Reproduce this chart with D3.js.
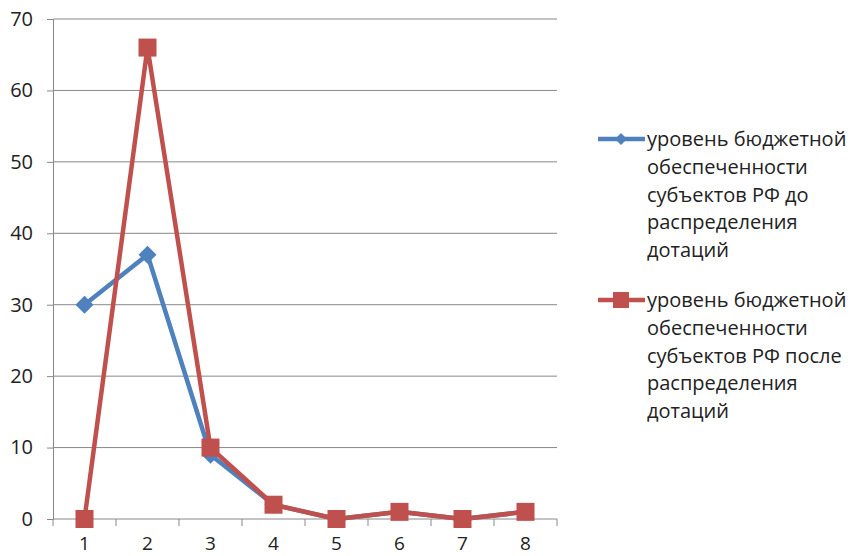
<!DOCTYPE html>
<html><head><meta charset="utf-8">
<script src="https://cdn.jsdelivr.net/npm/d3@7"></script>
<style>body{margin:0;background:#fff}</style>
</head><body>
<svg id="c" width="851" height="556"></svg>
<script>
const categories = ["1","2","3","4","5","6","7","8"];
const seriesBefore = [30, 37, 9, 2, 0, 1, 0, 1];
const seriesAfter = [0, 66, 10, 2, 0, 1, 0, 1];
const yTicks = [0,10,20,30,40,50,60,70];
const legendBefore = ["уровень бюджетной","обеспеченности","субъектов РФ до","распределения","дотаций"];
const legendAfter = ["уровень бюджетной","обеспеченности","субъектов РФ после","распределения","дотаций"];

const svg = d3.select("#c");
const font = "'Open Sans', sans-serif";
const L = 53, R = 557, T = 19, B = 519;
const x = d3.scaleBand().domain(categories).range([L, R]);
const y = d3.scaleLinear().domain([0, 70]).range([B, T]);
const gridColor = "#888";

// rhombus symbol
const rhombus = { draw(ctx, size) { const r = Math.sqrt(size/2); ctx.moveTo(0,-r); ctx.lineTo(r,0); ctx.lineTo(0,r); ctx.lineTo(-r,0); ctx.closePath(); } };

// gridlines
svg.append("g").selectAll("line").data(yTicks.filter(d=>d>0)).join("line")
  .attr("x1", L).attr("x2", R).attr("y1", d=>y(d)).attr("y2", d=>y(d))
  .attr("stroke", gridColor).attr("stroke-width", 1);

// y axis
const ya = svg.append("g").attr("transform", `translate(${L},0)`)
  .call(d3.axisLeft(y).tickValues(yTicks).tickSize(6).tickPadding(14));
ya.select(".domain").attr("stroke", gridColor);
ya.selectAll(".tick line").attr("stroke", gridColor);
ya.selectAll("text").attr("font-family", font).attr("font-size", 20).attr("fill", "#222");

// x axis
const xa = svg.append("g").attr("transform", `translate(0,${B})`)
  .call(d3.axisBottom(x).tickSize(0).tickPadding(18));
xa.select(".domain").attr("stroke", gridColor).attr("d", `M${L},0H${R}`);
xa.selectAll("text").attr("font-family", font).attr("font-size", 19).attr("fill", "#222");
const bounds = categories.map(c => x(c)).concat([R]);
svg.append("g").selectAll("line").data(bounds).join("line")
  .attr("x1", d=>d).attr("x2", d=>d).attr("y1", B).attr("y2", B+7)
  .attr("stroke", gridColor);

const cx = (d,i) => x(categories[i]) + x.bandwidth()/2;
const line = d3.line().x((d,i)=>cx(d,i)).y(d=>y(d));
const blue = "#4F81BD", red = "#C0504D";

svg.append("path").datum(seriesBefore).attr("d", line).attr("fill","none").attr("stroke", blue).attr("stroke-width", 4.5).attr("stroke-linejoin","round");
svg.append("g").selectAll("path").data(seriesBefore).join("path")
  .attr("d", d3.symbol(rhombus, 162))
  .attr("transform", (d,i)=>`translate(${cx(d,i)},${y(d)})`)
  .attr("fill", blue);

svg.append("path").datum(seriesAfter).attr("d", line).attr("fill","none").attr("stroke", red).attr("stroke-width", 4.5).attr("stroke-linejoin","round");
svg.append("g").selectAll("rect").data(seriesAfter).join("rect")
  .attr("x", (d,i)=>cx(d,i)-9).attr("y", d=>y(d)-9).attr("width", 18).attr("height", 18)
  .attr("fill", red);

// legend
function legend(yy, color, lines, marker){
  const g = svg.append("g");
  g.append("line").attr("x1", 598).attr("x2", 645).attr("y1", yy).attr("y2", yy).attr("stroke", color).attr("stroke-width", 4.5);
  if (marker === "diamond") {
    g.append("path").attr("d", d3.symbol(rhombus, 72)).attr("transform", `translate(621,${yy})`).attr("fill", color);
  } else {
    g.append("rect").attr("x", 613).attr("y", yy-8).attr("width", 16).attr("height", 16).attr("fill", color);
  }
  g.selectAll("text").data(lines).join("text")
    .attr("x", 647).attr("y", (d,i)=>yy + 7 + i*27.8)
    .attr("font-family", font).attr("font-size", 20).attr("fill", "#222")
    .text(d=>d);
}
legend(139, blue, legendBefore, "diamond");
legend(300, red, legendAfter, "square");
</script>
</body></html>
